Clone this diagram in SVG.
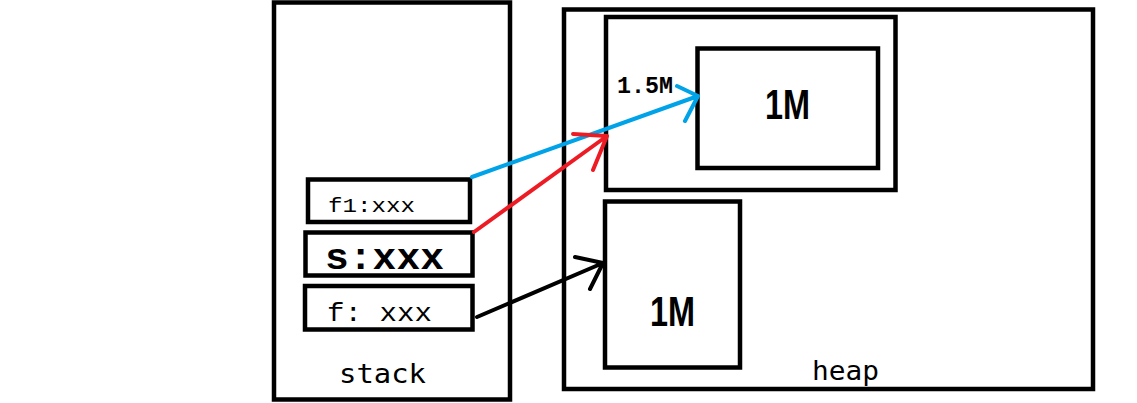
<svg xmlns="http://www.w3.org/2000/svg" width="1137" height="403" viewBox="0 0 1137 403">
<style>
.box{fill:none;stroke:#000;stroke-width:4.5}
.mono{font-family:"Liberation Mono","DejaVu Sans Mono",monospace;fill:#000}
.big{font-family:"Liberation Sans",Arial,sans-serif;font-weight:bold;font-size:42px;fill:#000}
.lbl{font-family:"DejaVu Sans Mono","Liberation Mono",monospace;font-size:26px;fill:#000}
.c{fill:none;stroke-width:4;stroke-linecap:round;stroke-linejoin:round}
</style>
<rect width="1137" height="403" fill="#fff"/>
<g id="stack">
<rect class="box" x="274" y="2.5" width="236" height="397"/>
<text class="lbl" x="339" y="383" textLength="87" lengthAdjust="spacingAndGlyphs">stack</text>
</g>
<g id="heap">
<rect class="box" x="564" y="9.5" width="529" height="379.5"/>
<text class="lbl" x="812" y="380" textLength="67" lengthAdjust="spacingAndGlyphs">heap</text>
</g>
<g id="f1">
<rect class="box" x="308" y="179.5" width="162" height="42.5"/>
<text class="mono" x="328" y="212" font-size="21" textLength="87" lengthAdjust="spacingAndGlyphs">f1:xxx</text>
</g>
<g id="s">
<rect class="box" x="305.5" y="232.5" width="167" height="43"/>
<text class="mono" x="325" y="269" font-size="36" font-weight="bold" textLength="119" lengthAdjust="spacingAndGlyphs">s:xxx</text>
</g>
<g id="f">
<rect class="box" x="305" y="286" width="167.5" height="43.5"/>
<text class="mono" x="327" y="321" font-size="25" textLength="105" lengthAdjust="spacingAndGlyphs">f: xxx</text>
</g>
<g id="obj15">
<rect class="box" x="606" y="17" width="289.5" height="173"/>
<text class="mono" x="617" y="93" font-size="24" font-weight="bold" textLength="56" lengthAdjust="spacingAndGlyphs">1.5M</text>
</g>
<g id="inner1M">
<rect class="box" x="697.5" y="48.5" width="180.5" height="119.5"/>
<text class="big" x="765" y="119" textLength="45" lengthAdjust="spacingAndGlyphs">1M</text>
</g>
<g id="lower1M">
<rect class="box" x="605" y="201.5" width="135" height="166"/>
<text class="big" x="650" y="326" textLength="45" lengthAdjust="spacingAndGlyphs">1M</text>
</g>
<g id="connectors">
<path class="c" stroke="#00a2e8" d="M472 177 L698 96 M677 86 L698 96 L685 121"/>
<path class="c" stroke="#ed1c24" d="M474 232 L607 136 M573 134 L607 136 L593 170"/>
<path class="c" stroke="#000" d="M477 317 L603 263 M575 257 L603 263 L590 289"/>
</g>
</svg>
